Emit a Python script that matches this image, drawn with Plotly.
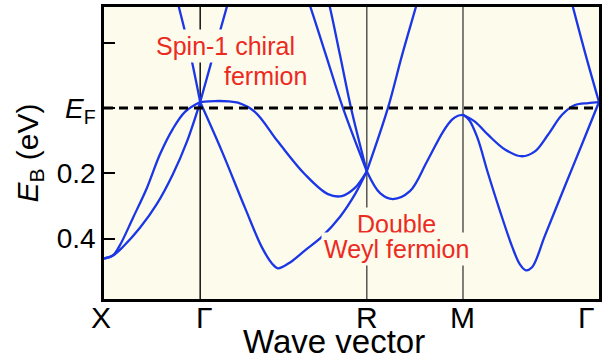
import plotly.graph_objects as go

# ---------------- data ----------------
K_POINTS = [0.0, 0.5, 1.366, 1.866, 2.573]
K_LABELS = ["X", "Γ", "R", "M", "Γ"]

Y_TICKS = [-0.2, 0.0, 0.2, 0.4]
Y_TICK_LABELS = ["", "<i>E</i><sub>F</sub>", "0.2", "0.4"]

# X - Gamma
xg_upper_k = [0.0, 0.047, 0.083, 0.151, 0.223, 0.291, 0.358, 0.421, 0.5]
xg_upper_e = [0.461, 0.451, 0.420, 0.336, 0.245, 0.142, 0.064, 0.012, -0.018]
xg_lower_k = [0.0, 0.047, 0.099, 0.187, 0.275, 0.358, 0.431, 0.5]
xg_lower_e = [0.461, 0.452, 0.425, 0.367, 0.294, 0.203, 0.103, -0.018]
xg_steep_k = [0.5, 0.447, 0.384, 0.35]
xg_steep_e = [-0.018, -0.170, -0.321, -0.40]

# Gamma - R
gr_steep_k = [0.5, 0.572, 0.644, 0.68]
gr_steep_e = [-0.018, -0.170, -0.321, -0.40]
gr_flat_k = [0.5, 0.577, 0.65, 0.696, 0.784, 0.904, 1.044, 1.164, 1.236, 1.304, 1.366]
gr_flat_e = [-0.018, -0.021, -0.020, -0.016, 0.012, 0.103, 0.203, 0.264, 0.270, 0.245, 0.194]
gr_low_k = [0.5, 0.613, 0.733, 0.821, 0.873, 0.904, 0.967, 1.045, 1.133, 1.227, 1.305, 1.366]
gr_low_e = [-0.018, 0.133, 0.306, 0.427, 0.476, 0.491, 0.473, 0.436, 0.394, 0.333, 0.264, 0.194]
gr_up1_k = [1.366, 1.242, 1.154, 1.066, 1.019]
gr_up1_e = [0.194, 0.0, -0.161, -0.321, -0.397]
gr_up2_k = [1.366, 1.284, 1.227, 1.169, 1.133]
gr_up2_e = [0.194, 0.0, -0.161, -0.321, -0.397]

# R - M
rm_up_k = [1.366, 1.476, 1.549, 1.627, 1.663]
rm_up_e = [0.194, 0.0, -0.161, -0.321, -0.397]
rm_down_k = [1.366, 1.435, 1.502, 1.590, 1.679, 1.762, 1.809, 1.840, 1.866]
rm_down_e = [0.194, 0.261, 0.279, 0.255, 0.164, 0.073, 0.036, 0.024, 0.021]

# M - Gamma
mg_upper_k = [1.866, 1.928, 1.996, 2.084, 2.173, 2.240, 2.308, 2.381, 2.448, 2.516, 2.573]
mg_upper_e = [0.021, 0.042, 0.082, 0.127, 0.148, 0.133, 0.082, 0.021, -0.009, -0.015, -0.018]
mg_lower_k = [1.866, 1.897, 1.939, 1.996, 2.058, 2.121, 2.162, 2.193, 2.225, 2.292, 2.396, 2.484, 2.573]
mg_lower_e = [0.021, 0.036, 0.088, 0.200, 0.315, 0.424, 0.479, 0.497, 0.488, 0.391, 0.239, 0.112, -0.018]
mg_steep_k = [2.573, 2.500, 2.432, 2.396]
mg_steep_e = [-0.018, -0.170, -0.321, -0.397]

BANDS = [
    (xg_upper_k, xg_upper_e), (xg_lower_k, xg_lower_e), (xg_steep_k, xg_steep_e),
    (gr_steep_k, gr_steep_e), (gr_flat_k, gr_flat_e), (gr_low_k, gr_low_e),
    (gr_up1_k, gr_up1_e), (gr_up2_k, gr_up2_e),
    (rm_up_k, rm_up_e), (rm_down_k, rm_down_e),
    (mg_upper_k, mg_upper_e), (mg_lower_k, mg_lower_e), (mg_steep_k, mg_steep_e),
]

# ---------------- style ----------------
FONT = "Liberation Sans, Arial, Helvetica, sans-serif"
BG = "#FDFBEB"
BLUE = "#1a36e6"
RED = "#ec2a1f"

fig = go.Figure()
for k, e in BANDS:
    fig.add_trace(go.Scatter(x=k, y=e, mode="lines",
                             line=dict(color=BLUE, width=2.3, shape="spline", smoothing=1.0),
                             hoverinfo="skip"))

# vertical high-symmetry lines
for i, kp in enumerate(K_POINTS[1:4]):
    fig.add_shape(type="line", xref="x", yref="paper", x0=kp, x1=kp, y0=0, y1=1,
                  line=dict(color="#111111" if i == 0 else "#555555", width=1.5),
                  layer="below")

# Fermi level
fig.add_shape(type="line", xref="x", yref="y", x0=K_POINTS[0], x1=K_POINTS[-1], y0=0, y1=0,
              line=dict(color="black", width=3, dash="9px,6px"), layer="above")

# red annotations
def red_note(text, x, y):
    fig.add_annotation(text=text, x=x, y=y, xref="x", yref="y", showarrow=False,
                       font=dict(family=FONT, size=25, color=RED),
                       bgcolor=BG, borderpad=2, xanchor="center", yanchor="middle")

red_note("Spin-1 chiral", 0.629, -0.190)
red_note("fermion", 0.837, -0.099)
red_note("Double", 1.52, 0.355)
red_note("Weyl fermion", 1.52, 0.433)

# k-point labels
x_shifts = [-3, 4, 0, 0, -13]
for kp, lab, sh in zip(K_POINTS, K_LABELS, x_shifts):
    fig.add_annotation(text=lab, x=kp, y=-0.0644, xref="x", yref="paper", showarrow=False,
                       xshift=sh, font=dict(family=FONT, size=30, color="black"),
                       xanchor="center", yanchor="middle")

fig.add_annotation(text="Wave vector", x=0.4646, y=-0.146, xref="paper", yref="paper",
                   showarrow=False, font=dict(family=FONT, size=33, color="black"),
                   xanchor="center", yanchor="middle")

fig.update_layout(
    width=612, height=362,
    margin=dict(l=104, r=13, t=4, b=63),
    paper_bgcolor="white", plot_bgcolor=BG,
    showlegend=False,
    font=dict(family=FONT, color="black"),
    xaxis=dict(range=[K_POINTS[0], K_POINTS[-1]], showticklabels=False, ticks="",
               showgrid=False, zeroline=False, showline=True, mirror=True,
               linecolor="black", linewidth=2.5),
    yaxis=dict(range=[0.585, -0.309], tickvals=Y_TICKS, ticktext=Y_TICK_LABELS,
               ticks="inside", ticklen=11, tickwidth=2, tickcolor="black",
               tickfont=dict(family=FONT, size=28, color="black"),
               showgrid=False, zeroline=False, showline=True, mirror=True,
               linecolor="black", linewidth=2.5,
               title=dict(text="<i>E</i><sub>B</sub> (eV)", standoff=10,
                          font=dict(family=FONT, size=30, color="black"))),
)

fig.write_html("out.html")
